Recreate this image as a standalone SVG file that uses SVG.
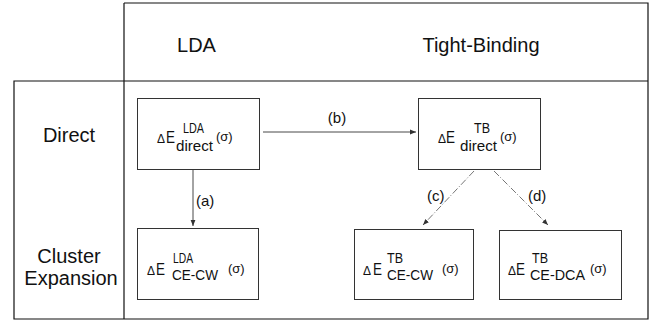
<svg xmlns="http://www.w3.org/2000/svg" width="652" height="330" viewBox="0 0 652 330">
<style>
text{font-family:"Liberation Sans",Arial,sans-serif;fill:#111}
.hdr{font-size:20px}
.box{fill:none;stroke:#333;stroke-width:1}
.frame{fill:none;stroke:#111;stroke-width:1.2}
.d{font-size:13px}
.e{font-size:17px}
.sup{font-size:14px}
.sub{font-size:15.5px}
.sg{font-size:13px}
.lbl{font-size:15px}
.conn{fill:none;stroke:#333;stroke-width:0.9}
.dash{stroke:#666;stroke-dasharray:7,2,1,2}
</style>
<defs>
<marker id="ah" viewBox="0 0 10 10" refX="10" refY="5" markerWidth="6" markerHeight="6" orient="auto" markerUnits="userSpaceOnUse">
<path d="M0,1 L10,5 L0,9 Z" fill="#333"/>
</marker>
</defs>
<g id="frame">
<path class="frame" d="M124,3 L648,3 L648,319 L14,319 L14,81 L648,81 M124,3 L124,319"/>
</g>
<g id="headers">
<text class="hdr" x="196.5" y="52" text-anchor="middle">LDA</text>
<text class="hdr" x="481" y="52" text-anchor="middle">Tight-Binding</text>
<text class="hdr" x="69" y="142" text-anchor="middle">Direct</text>
<text class="hdr" x="69" y="263" text-anchor="middle">Cluster</text>
<text class="hdr" x="71" y="285" text-anchor="middle">Expansion</text>
</g>
<g id="n-lda-direct">
<rect class="box" x="137.5" y="98.5" width="122" height="71"/>
<text class="d" x="157" y="143" textLength="8" lengthAdjust="spacingAndGlyphs">Δ</text>
<text class="e" x="166" y="143" textLength="9" lengthAdjust="spacingAndGlyphs">E</text>
<text class="sup" x="183" y="133" textLength="21" lengthAdjust="spacingAndGlyphs">LDA</text>
<text class="sub" x="176" y="151" textLength="37" lengthAdjust="spacingAndGlyphs">direct</text>
<text class="sg" x="216" y="141">(σ)</text>
</g>
<g id="n-tb-direct">
<rect class="box" x="418.5" y="98.5" width="122" height="71"/>
<text class="d" x="438" y="143" textLength="8" lengthAdjust="spacingAndGlyphs">Δ</text>
<text class="e" x="446" y="143" textLength="9" lengthAdjust="spacingAndGlyphs">E</text>
<text class="sup" x="474" y="133" textLength="16" lengthAdjust="spacingAndGlyphs">TB</text>
<text class="sub" x="460" y="151" textLength="37" lengthAdjust="spacingAndGlyphs">direct</text>
<text class="sg" x="500" y="141">(σ)</text>
</g>
<g id="n-lda-ce-cw">
<rect class="box" x="137.5" y="228.5" width="121" height="71"/>
<text class="d" x="147" y="275" textLength="8" lengthAdjust="spacingAndGlyphs">Δ</text>
<text class="e" x="156" y="275" textLength="9" lengthAdjust="spacingAndGlyphs">E</text>
<text class="sup" x="173" y="263" textLength="20" lengthAdjust="spacingAndGlyphs">LDA</text>
<text class="sub" x="172" y="280" textLength="46" lengthAdjust="spacingAndGlyphs">CE-CW</text>
<text class="sg" x="228" y="273">(σ)</text>
</g>
<g id="n-tb-ce-cw">
<rect class="box" x="354.5" y="229.5" width="119" height="70"/>
<text class="d" x="363" y="275" textLength="8" lengthAdjust="spacingAndGlyphs">Δ</text>
<text class="e" x="373" y="275" textLength="9" lengthAdjust="spacingAndGlyphs">E</text>
<text class="sup" x="387" y="263" textLength="16" lengthAdjust="spacingAndGlyphs">TB</text>
<text class="sub" x="387" y="280" textLength="46" lengthAdjust="spacingAndGlyphs">CE-CW</text>
<text class="sg" x="442" y="273">(σ)</text>
</g>
<g id="n-tb-ce-dca">
<rect class="box" x="499.5" y="230.5" width="122" height="69"/>
<text class="d" x="508" y="275" textLength="8" lengthAdjust="spacingAndGlyphs">Δ</text>
<text class="e" x="516" y="275" textLength="9" lengthAdjust="spacingAndGlyphs">E</text>
<text class="sup" x="532" y="263" textLength="16" lengthAdjust="spacingAndGlyphs">TB</text>
<text class="sub" x="530" y="280" textLength="55" lengthAdjust="spacingAndGlyphs">CE-DCA</text>
<text class="sg" x="590" y="273">(σ)</text>
</g>
<g id="connectors">
<line class="conn" x1="263" y1="132" x2="416" y2="132" marker-end="url(#ah)"/>
<text class="lbl" x="337" y="123" text-anchor="middle">(b)</text>
<line class="conn" x1="193" y1="170" x2="193" y2="226" marker-end="url(#ah)"/>
<text class="lbl" x="196" y="206">(a)</text>
<line class="conn dash" x1="474" y1="171" x2="423" y2="225" marker-end="url(#ah)"/>
<text class="lbl" x="427" y="201">(c)</text>
<line class="conn dash" x1="494" y1="171" x2="548" y2="225" marker-end="url(#ah)"/>
<text class="lbl" x="528" y="201">(d)</text>
</g>
</svg>
